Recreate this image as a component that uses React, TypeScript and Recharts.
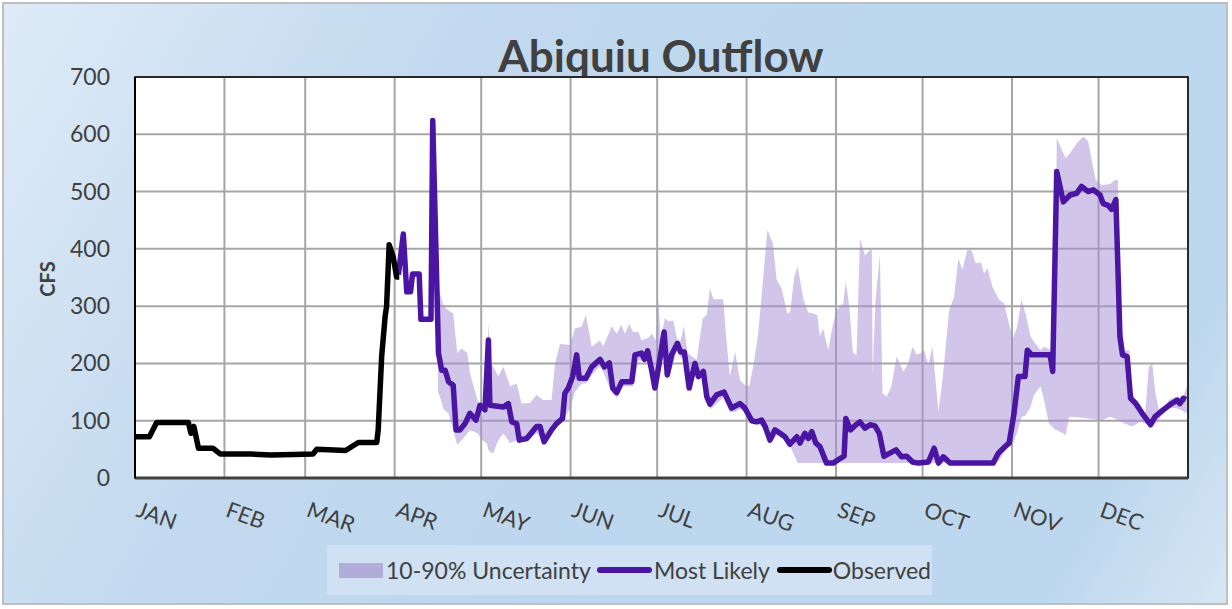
import React from "react"
import { ComposedChart, Line, Area, XAxis, YAxis, CartesianGrid, ReferenceArea } from "recharts"

// day of year (0 = Jan 1) and CFS values
const obsDays = [0, 5, 7.5, 18.5, 19.4, 20.4, 22, 27, 29.5, 40, 47, 55, 61.7, 63, 73, 77.4, 83.8, 84.3, 85.5, 86.7, 87.2, 88.1, 89.5, 90.7, 91.6]
const obsVals = [72, 72, 97, 97, 78, 90, 52, 52, 42, 42, 40, 41, 42, 50, 48, 62, 62, 84, 212, 282, 299, 407, 386, 351, 351]

const mlDays = [
  91.3, 93, 94.2, 95.5, 96.2, 98.5, 99.1, 102.6, 103.2, 105.2, 106.3, 107.5, 108.7, 110.3, 111.3, 112.6, 114.4, 116.1, 118.2, 119.6,
  121.3, 122.5, 123, 127.7, 129.4, 130.6, 132.3, 133.2, 135.8, 139.2, 140.4, 141.8, 144.4, 146.1, 148.2, 149, 150.2, 151.7, 153.1, 154,
  156.3, 158.3, 161.2, 162.7, 164.4, 165.6, 167, 168.7, 172.2, 173.3, 175.6, 176.6, 177.7, 179.1, 180.2, 181.7, 183.4, 184.5, 186, 188,
  189.1, 190.4, 192.1, 194.1, 195.3, 197, 198.2, 199.3, 201.6, 204.2, 206.8, 209.7, 211.4, 213.8, 215.5, 217.2, 218.4, 220.1, 221.8, 223.6,
  225.3, 227, 229.4, 230.5, 232.2, 233.4, 234.6, 236, 237.4, 239.7, 242, 244.4, 245.8, 246.4, 248, 249.9, 251.3, 253, 254.8, 256.5,
  258, 259.6, 261.5, 263.8, 265.7, 267.5, 269.5, 271.5, 275, 277, 278.5, 280.2, 282.5, 297.5, 299.2, 301.6, 303, 304.7, 306.2, 308.5,
  309.3, 310.8, 317.2, 318.1, 319.5, 321.8, 324.1, 326.4, 328.1, 330.4, 332.2, 334.5, 335.6, 337.3, 338.5, 340, 340.8, 341.4, 342.3, 343.9,
  345.1, 346.9, 349.5, 352, 353.6, 356.4, 359.3, 361.3, 362.2, 363.4, 364.3,
]
const mlVals = [
  355, 426, 325, 325, 356, 356, 277, 277, 624, 218, 188, 188, 168, 162, 84, 84, 95, 113, 101, 127,
  119, 241, 127, 124, 130, 98, 95, 66, 69, 90, 90, 63, 84, 95, 104, 148, 157, 177, 215, 174,
  174, 194, 207, 194, 201, 157, 149, 168, 168, 215, 218, 207, 222, 188, 157, 200, 255, 180, 215, 235,
  220, 220, 157, 200, 177, 186, 142, 129, 145, 150, 122, 130, 122, 100, 98, 101, 90, 66, 84, 78,
  72, 59, 72, 61, 78, 69, 81, 61, 55, 26, 26, 34, 38, 104, 84, 93, 98, 87, 93, 91,
  78, 38, 43, 49, 37, 38, 28, 26, 28, 52, 26, 37, 26, 26, 43, 55, 61, 113, 177, 177,
  223, 215, 215, 186, 535, 482, 494, 497, 509, 500, 503, 494, 479, 476, 469, 486, 351, 247, 215, 212,
  139, 130, 110, 93, 107, 119, 130, 136, 130, 139, 137,
]

const bandDays = [
  105, 105.7, 107, 108.6, 110.3, 111.7, 113.2, 115.2, 116.1, 118.7, 120.5, 122, 122.5, 123.2, 124.2, 125.9, 127.7, 130, 132.3, 134,
  136.9, 139.2, 141.5, 144.4, 145.6, 147.3, 150.8, 152.5, 154.8, 156.3, 158.3, 161.2, 162.3, 165.2, 167, 168.5, 169.8, 171.3, 172.7, 174.5,
  175.6, 178, 179.1, 180.6, 181.4, 182.2, 183.7, 185, 186.6, 188, 189.1, 190.3, 191.5, 194.7, 196.8, 198.2, 199.3, 200.5, 203.9, 204.8,
  206.2, 208, 209.7, 211.4, 212.9, 214.3, 216, 217.6, 219.2, 221.1, 222.4, 224.1, 226.1, 227.1, 228.5, 229.7, 231.7, 233.4, 235.1, 236.5,
  237.4, 238.5, 240.3, 242, 243.2, 245.5, 246.4, 247.6, 248.8, 250.1, 251.3, 253, 254.8, 255.4, 255.7, 256.7, 258.2, 259.1, 260.5, 262.2,
  264, 266.3, 268, 269.5, 270.9, 272.4, 273.5, 275, 276.4, 278.5, 279.9, 281, 282.2, 283.9, 285.4, 286.8, 288.5, 290, 291.4, 293.2,
  294.3, 295.5, 297.2, 299.5, 301.2, 302.9, 304.3, 305.8, 307.3, 308.7, 310.4, 311.6, 313.9, 315.1, 316.8, 319.1, 319.5, 322.6, 323.8, 326.4,
  328.7, 330.4, 331.6, 333, 335.1, 338, 339.7, 340.7, 341.2, 343, 344.6, 345.6, 348.5, 350.2, 351.4, 352.6, 353.7, 355.5, 358.4, 360.7,
  362.9, 364.6,
]
const bandLow = [
  150, 142, 120, 113, 84, 58, 66, 78, 84, 78, 66, 60, 49, 45, 43, 66, 78, 61, 66, 72,
  69, 78, 63, 75, 90, 95, 120, 150, 165, 165, 180, 195, 185, 150, 140, 158, 160, 160, 160, 205,
  205, 210, 180, 150, 160, 190, 240, 175, 200, 225, 210, 210, 160, 180, 175, 135, 120, 125, 140, 130,
  115, 115, 120, 115, 100, 95, 95, 88, 85, 65, 75, 70, 65, 55, 40, 26, 26, 26, 26, 26,
  26, 26, 26, 26, 26, 26, 26, 26, 26, 26, 26, 26, 26, 26, 26, 26, 26, 26, 26, 26,
  26, 26, 26, 26, 26, 26, 26, 26, 26, 26, 26, 26, 26, 26, 26, 26, 26, 26, 26, 26,
  26, 26, 26, 30, 45, 55, 60, 80, 107, 109, 124, 145, 160, 136, 95, 84, 84, 75, 107, 106,
  105, 104, 103, 102, 101, 107, 104, 101, 100, 95, 92, 90, 98, 95, 92, 90, 95, 107, 122, 122,
  118, 113,
]
const bandHigh = [
  330, 322, 300, 293, 287, 218, 226, 218, 183, 136, 107, 180, 270, 200, 194, 177, 194, 160, 165, 130,
  131, 145, 136, 136, 200, 234, 232, 261, 264, 285, 229, 240, 229, 265, 252, 267, 252, 269, 255, 255,
  240, 245, 252, 240, 311, 243, 279, 273, 275, 240, 240, 265, 218, 206, 279, 285, 331, 312, 312, 252,
  177, 220, 171, 162, 160, 194, 252, 340, 433, 410, 346, 331, 287, 289, 351, 369, 311, 289, 287, 284,
  247, 261, 223, 270, 293, 305, 343, 300, 220, 214, 418, 389, 398, 398, 183, 311, 389, 148, 142, 160,
  212, 186, 200, 229, 215, 218, 223, 197, 229, 116, 171, 229, 293, 316, 383, 363, 398, 397, 375, 376,
  357, 366, 334, 311, 305, 270, 244, 264, 311, 287, 247, 238, 223, 229, 225, 218, 593, 558, 565, 584,
  596, 588, 555, 520, 511, 513, 520, 520, 300, 223, 223, 150, 116, 113, 194, 200, 147, 107, 136, 142,
  136, 160,
]

const monthStarts = [0, 31, 59, 90, 120, 151, 181, 212, 243, 273, 304, 334, 365]
const monthNames = ["JAN", "FEB", "MAR", "APR", "MAY", "JUN", "JUL", "AUG", "SEP", "OCT", "NOV", "DEC", ""]
const yTicks = [0, 100, 200, 300, 400, 500, 600, 700]

const observed = obsDays.map((d, i) => ({ day: d, value: obsVals[i] }))
const mostLikely = mlDays.map((d, i) => ({ day: d, value: mlVals[i] }))
const band = bandDays.map((d, i) => ({ day: d, range: [bandLow[i], bandHigh[i]] }))

const FONT = "Lato, 'Open Sans', sans-serif"
const TEXT = "#404040"
const PURPLE = "#4a15a3"

function MonthTick(props: any) {
  const { x, y, payload } = props
  const label = monthNames[monthStarts.indexOf(payload.value)] || ""
  const ty = y + 38
  return (
    <text x={x} y={ty} transform={`rotate(20, ${x}, ${ty})`} textAnchor="start" fontSize={22} fill={TEXT} fontFamily={FONT}>
      {label}
    </text>
  )
}

function ValueTick(props: any) {
  const { x, y, payload } = props
  return (
    <text x={x} y={y} dy="0.35em" textAnchor="end" fontSize={23} fill={TEXT} fontFamily={FONT}>
      {payload.value}
    </text>
  )
}

function LegendBox() {
  return (
    <div
      style={{
        position: "absolute", left: 327, top: 545, width: 605, height: 50, background: "#cfe1f2",
        display: "flex", alignItems: "center", fontFamily: FONT, fontSize: 23, color: TEXT, whiteSpace: "nowrap",
      }}
    >
      <span style={{ display: "inline-block", width: 44, height: 15, background: "#b1acd9", marginLeft: 12, marginRight: 3 }} />
      <span>10-90% Uncertainty</span>
      <span style={{ display: "inline-block", width: 55, height: 6, borderRadius: 3, background: PURPLE, marginLeft: 6, marginRight: 2 }} />
      <span>Most Likely</span>
      <span style={{ display: "inline-block", width: 55, height: 6, borderRadius: 3, background: "#000", marginLeft: 7, marginRight: 1 }} />
      <span>Observed</span>
    </div>
  )
}

export default function App() {
  return (
    <div style={{ position: "absolute", left: 0, top: 0, width: 1232, height: 609, background: "#fff" }}>
      <div
        style={{
          position: "absolute", left: 2, top: 2, width: 1226, height: 603, border: "2px solid #bfbfbf", boxSizing: "border-box",
          background: "linear-gradient(120deg, #dfebf7 0%, #c2d9ef 30%, #bdd7ee 60%, #bdd7ee 88%, #d6e6f4 100%)",
        }}
      />
      <div
        style={{
          position: "absolute", left: 0, top: 30, width: 1322, textAlign: "center", fontFamily: FONT,
          fontWeight: 700, fontSize: 44, color: TEXT, lineHeight: "50px",
        }}
      >
        Abiquiu Outflow
      </div>
      <div
        style={{
          position: "absolute", left: 47, top: 279, transform: "translate(-50%, -50%) rotate(-90deg)",
          fontFamily: FONT, fontWeight: 700, fontSize: 20, color: TEXT,
        }}
      >
        CFS
      </div>
      <div style={{ position: "absolute", left: 0, top: 0 }}>
        <ComposedChart width={1232} height={609} margin={{ top: 77, right: 44, bottom: 101, left: 0 }}>
          <CartesianGrid stroke="#a6a6a6" strokeWidth={2} fill="#ffffff" fillOpacity={1} />
          <XAxis
            dataKey="day"
            type="number"
            domain={[0, 365]}
            ticks={monthStarts}
            interval={0}
            allowDuplicatedCategory={false}
            height={30}
            tickLine={false}
            tickSize={0}
            tickMargin={0}
            tick={<MonthTick />}
            axisLine={{ stroke: "#404040", strokeWidth: 3 }}
          />
          <YAxis
            type="number"
            domain={[0, 700]}
            ticks={yTicks}
            interval={0}
            width={135}
            tickLine={false}
            tickSize={0}
            tickMargin={25}
            tick={<ValueTick />}
            axisLine={{ stroke: "#000", strokeWidth: 2 }}
          />
          <Area
            data={band}
            dataKey="range"
            type="linear"
            stroke="none"
            fill="#a48bd3"
            fillOpacity={0.5}
            isAnimationActive={false}
          />
          <Line data={mostLikely} dataKey="value" type="linear" stroke={PURPLE} strokeWidth={5.5} dot={false} strokeLinejoin="round" isAnimationActive={false} />
          <Line data={observed} dataKey="value" type="linear" stroke="#000" strokeWidth={5.5} dot={false} strokeLinejoin="round" isAnimationActive={false} />
          <ReferenceArea x1={0} x2={365} y1={0} y2={700} fill="none" stroke="#000" strokeWidth={1.5} ifOverflow="visible" />
        </ComposedChart>
      </div>
      <LegendBox />
    </div>
  )
}
